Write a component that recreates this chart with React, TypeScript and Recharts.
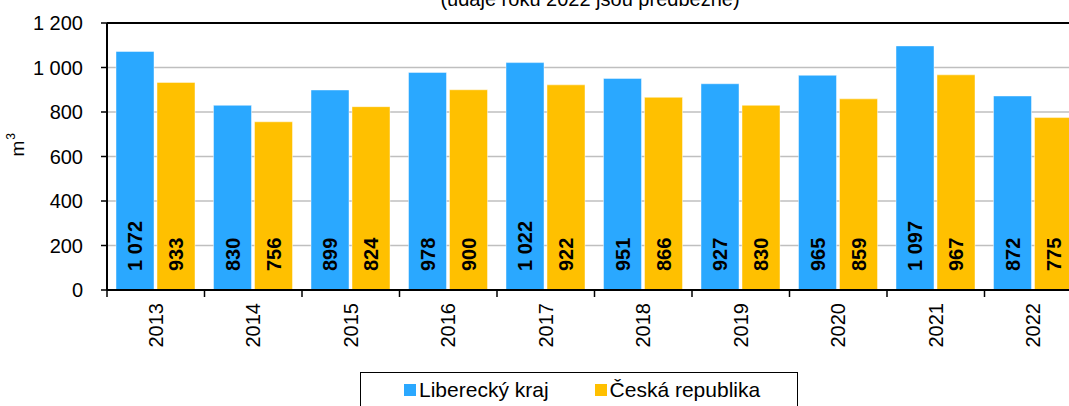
import { BarChart, Bar, XAxis, YAxis, CartesianGrid, ReferenceLine, LabelList } from "recharts";

const years = ["2013", "2014", "2015", "2016", "2017", "2018", "2019", "2020", "2021", "2022"];
const liberecky = [1072, 830, 899, 978, 1022, 951, 927, 965, 1097, 872];
const cesko = [933, 756, 824, 900, 922, 866, 830, 859, 967, 775];
const yTicks = [0, 200, 400, 600, 800, 1000, 1200];

const seriesInfo = [
  { key: "lk", name: "Liberecký kraj", color: "#2AA8FF" },
  { key: "cr", name: "Česká republika", color: "#FFC000" },
];

const FONT = '"Liberation Sans", Arial, sans-serif';

function fmt(n: number): string {
  const s = String(Math.round(n));
  return s.replace(/\B(?=(\d{3})+(?!\d))/g, " ");
}

const data = years.map((y, i) => ({ year: y, lk: liberecky[i], cr: cesko[i] }));

function YearTick(props: any) {
  const { x, y, payload } = props;
  const half = payload && typeof payload.offset === "number" ? payload.offset : 0;
  return (
    <g>
      <line x1={x - half} x2={x - half} y1={y - 8} y2={y - 1} stroke="#000" strokeWidth={1.5} />
      <text
        x={x}
        y={y + 5}
        transform={`rotate(-90, ${x}, ${y + 5})`}
        textAnchor="end"
        dominantBaseline="central"
        fontSize={20}
        fontFamily={FONT}
        fill="#000"
      >
        {payload.value}
      </text>
    </g>
  );
}

function BarValue(props: any) {
  const { x, y, width, height, value } = props;
  const cx = Number(x) + Number(width) / 2;
  const cy = Number(y) + Number(height) - 19;
  return (
    <text
      x={cx}
      y={cy}
      transform={`rotate(-90, ${cx}, ${cy})`}
      textAnchor="start"
      dominantBaseline="central"
      fontSize={20}
      fontWeight="bold"
      fontFamily={FONT}
      fill="#000"
    >
      {fmt(value)}
    </text>
  );
}

// m3 unit label on the y axis, superscript as a raised tspan
function UnitLabel(props: any) {
  const vb = props.viewBox || {};
  const x = Number(vb.x || 0) + 24;
  const y = Number(vb.y || 0) + Number(vb.height || 0) / 2;
  return (
    <text
      x={x}
      y={y}
      transform={`rotate(-90, ${x}, ${y})`}
      textAnchor="start"
      fontSize={19}
      fontFamily={FONT}
      fill="#000"
    >
      m
      <tspan fontSize={12} dx={1} dy={-9}>
        3
      </tspan>
    </text>
  );
}

export default function App() {
  return (
    <div
      style={{
        position: "fixed",
        left: 0,
        top: 0,
        width: 1069,
        height: 406,
        overflow: "hidden",
        background: "#fff",
        fontFamily: FONT,
      }}
    >
      <div
        style={{
          position: "absolute",
          left: 390,
          width: 400,
          top: -13,
          textAlign: "center",
          fontSize: 20,
          lineHeight: "24px",
          color: "#000",
        }}
      >
        (údaje roku 2022 jsou předběžné)
      </div>
      <BarChart
        width={1092}
        height={406}
        data={data}
        margin={{ top: 23, right: 10, left: 0, bottom: 0 }}
        barCategoryGap={9}
        barGap={3}
      >
        <CartesianGrid horizontal vertical={false} stroke="#BFBFBF" strokeWidth={1.5} />
        <XAxis
          dataKey="year"
          height={116}
          axisLine={{ stroke: "#000", strokeWidth: 2 }}
          tickLine={false}
          tick={<YearTick />}
          interval={0}
        />
        <YAxis
          width={107}
          domain={[0, 1200]}
          ticks={yTicks}
          tickFormatter={fmt}
          axisLine={{ stroke: "#000", strokeWidth: 2 }}
          tickLine={{ stroke: "#000", strokeWidth: 1.5 }}
          tickSize={6}
          tickMargin={18}
          tick={{ fill: "#000", fontSize: 20, fontFamily: FONT }}
          label={<UnitLabel />}
        />
        <ReferenceLine y={1200} stroke="#000" strokeWidth={2} />
        {seriesInfo.map((s) => (
          <Bar
            key={s.key}
            dataKey={s.key}
            name={s.name}
            fill={s.color}
            stroke="rgba(255,255,255,0.45)"
            strokeWidth={1}
            isAnimationActive={false}
          >
            <LabelList dataKey={s.key} content={<BarValue />} />
          </Bar>
        ))}
      </BarChart>
      <div
        style={{
          position: "absolute",
          left: 360,
          top: 372,
          width: 438,
          height: 60,
          border: "1px solid #000",
          display: "flex",
          paddingLeft: 43,
          boxSizing: "border-box",
          fontSize: 21,
          color: "#000",
        }}
      >
        {seriesInfo.map((s, i) => (
          <div
            key={s.key}
            style={{ display: "flex", alignItems: "center", height: 34, marginRight: i === 0 ? 46 : 0 }}
          >
            <span style={{ width: 12, height: 12, background: s.color, display: "inline-block", marginRight: 3 }} />
            <span>{s.name}</span>
          </div>
        ))}
      </div>
    </div>
  );
}
